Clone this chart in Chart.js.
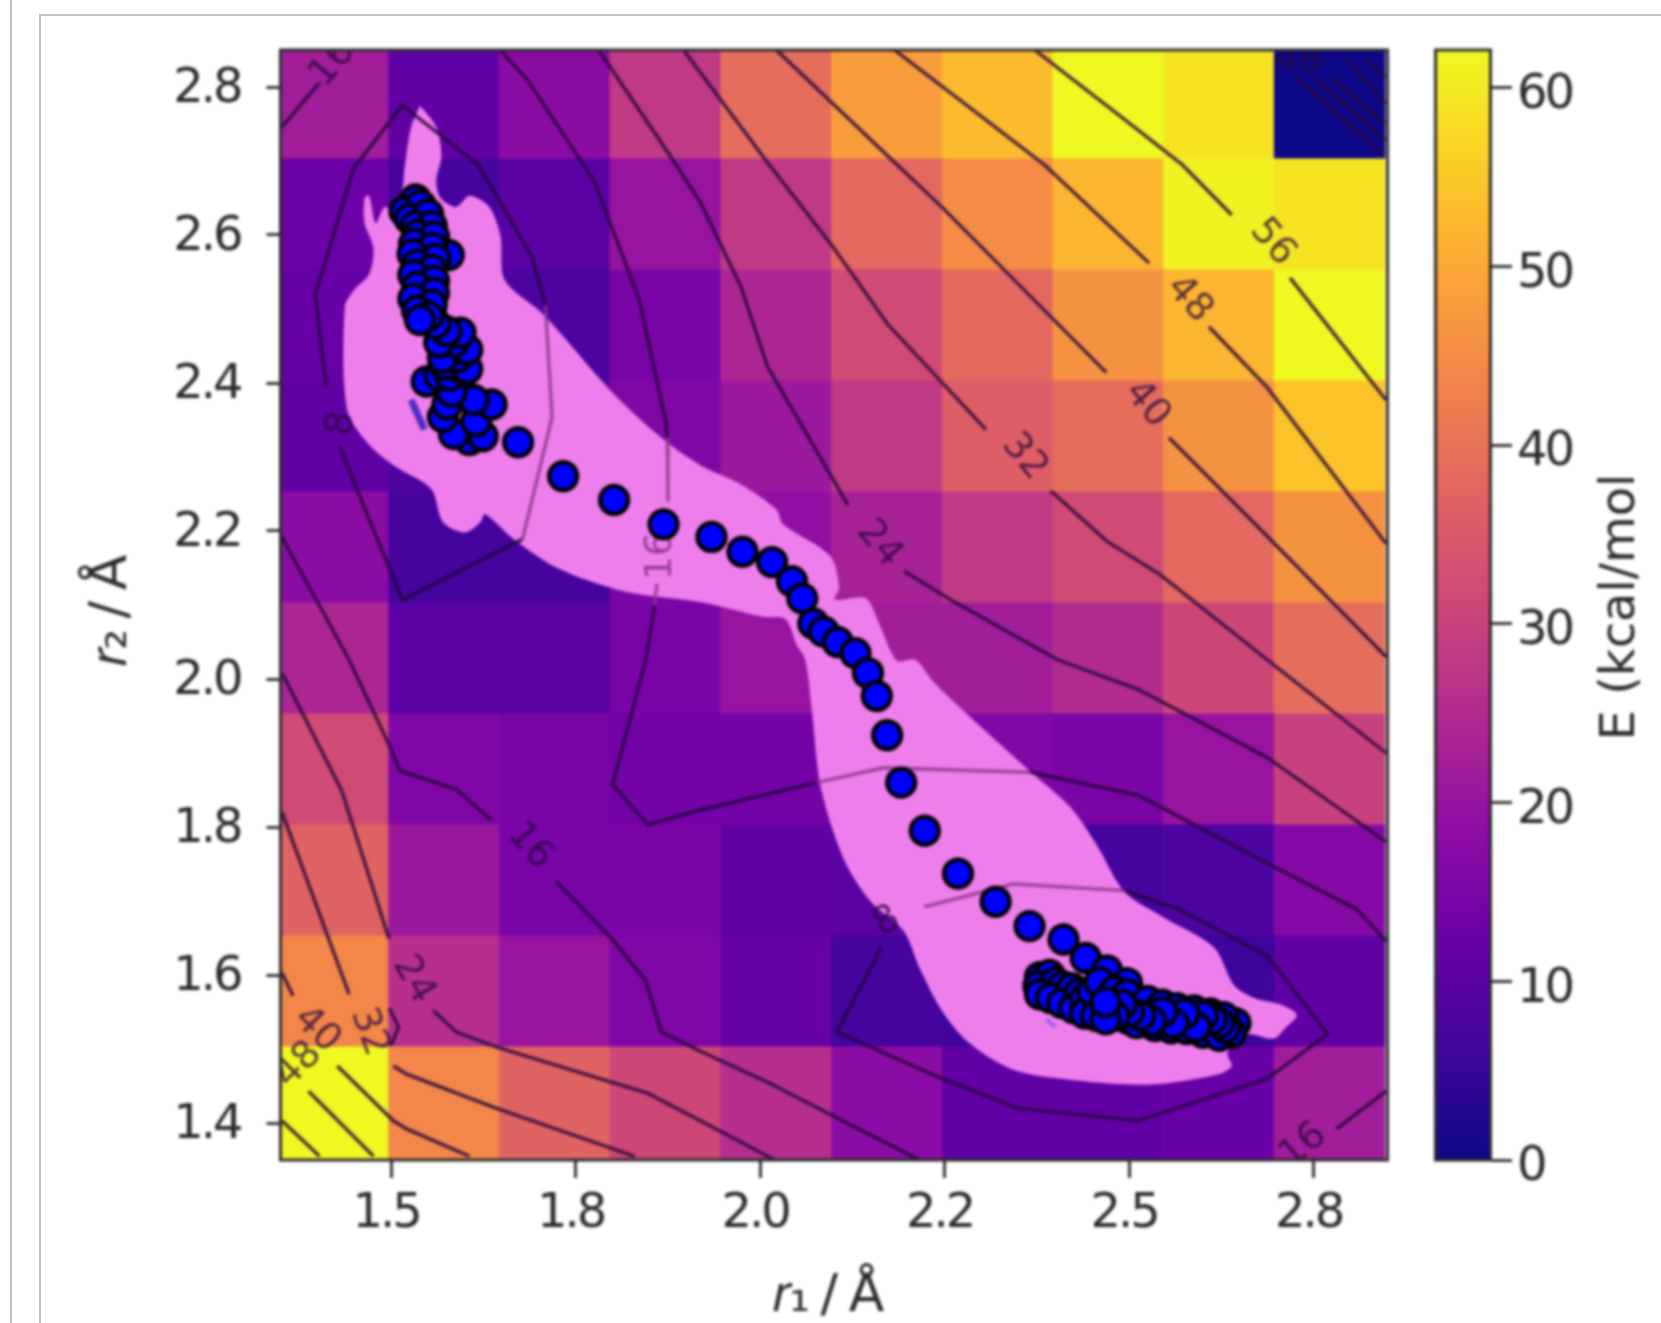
<!DOCTYPE html>
<html>
<head>
<meta charset="utf-8">
<title>Energy surface</title>
<script src="https://cdn.jsdelivr.net/npm/chart.js@4"></script>
<style>
  html, body { margin: 0; padding: 0; background: #fff; overflow: hidden; }
  #page { position: relative; width: 1661px; height: 1323px; overflow: hidden; }
  #outer { position: absolute; left: 10px; top: 0; bottom: 0; border-left: 2px solid #c4c4c4; }
  #inner { position: absolute; left: 39px; top: 14px; right: 0; bottom: 0; border-left: 2px solid #c4c4c4; border-top: 2px solid #c4c4c4; }
  canvas { position: absolute; top: 0; filter: blur(1.5px); }
  #surface { left: 0; }
  #colorbar { left: 1434px; }
</style>
</head>
<body>
<div id="page">
  <div id="outer"></div>
  <div id="inner"></div>
  <canvas id="surface" width="1661" height="1323"></canvas>
  <canvas id="colorbar" width="227" height="1323"></canvas>
</div>
<script>
const fontFamily = "'DejaVu Sans'";
const tickFontSize = 48;

// energy grid, kcal/mol, rows run from the top of the plot down
const r1Edges = [1.3465, 1.4965, 1.6465, 1.7965, 1.9465, 2.0965, 2.2465, 2.3965, 2.5465, 2.6965, 2.8465];
const r2Edges = [2.85, 2.703, 2.553, 2.403, 2.253, 2.103, 1.953, 1.803, 1.653, 1.503, 1.35];
const energies = [
  [22, 11, 18, 28, 39, 48, 53, 62, 59, 0],
  [13, 7, 10, 20, 28, 38, 45, 52, 61, 59],
  [12, 9, 8, 15, 24, 32, 38, 46, 52, 62],
  [11, 8, 10, 16, 21, 28, 36, 39, 46, 54],
  [18, 7, 7, 15, 19, 23, 28, 32, 38, 46],
  [24, 10, 10, 15, 20, 22, 22, 25, 31, 39],
  [32, 16, 15, 14, 14, 15, 16, 15, 20, 30],
  [37, 21, 15, 15, 11, 10, 11, 7, 8, 17],
  [44, 26, 20, 16, 12, 7, 6, 7, 6, 11],
  [62, 44, 37, 31, 26, 18, 11, 11, 12, 22],
];

const xTickValues = [1.5, 1.75, 2.0, 2.25, 2.5, 2.75];
const xTickLabels = ["1.5", "1.8", "2.0", "2.2", "2.5", "2.8"];
const yTickValues = [1.4, 1.6, 1.8, 2.0, 2.2, 2.4, 2.6, 2.8];
const yTickLabels = ["1.4", "1.6", "1.8", "2.0", "2.2", "2.4", "2.6", "2.8"];
const energyTicks = [0, 10, 20, 30, 40, 50, 60];
const energyMax = 62.1;

// plasma colormap
const plasma = ["#0d0887", "#41049d", "#6a00a8", "#8f0da4", "#b12a90", "#cc4778", "#e16462", "#f1844b", "#fca636", "#fcce25", "#f0f921"];

const contours = [
  [[1.412, 2.394], [1.397, 2.519], [1.449, 2.69], [1.515, 2.775], [1.618, 2.695], [1.691, 2.57], [1.709, 2.505]],
  [[1.678, 2.189], [1.515, 2.107], [1.43, 2.314]],
  [[2.164, 1.637], [2.104, 1.523], [2.246, 1.46], [2.349, 1.42], [2.512, 1.403], [2.687, 1.46], [2.769, 1.52], [2.687, 1.626], [2.567, 1.689], [2.494, 1.714]],
  [[1.648, 2.85], [1.685, 2.809], [1.775, 2.673], [1.836, 2.513], [1.872, 2.348], [1.874, 2.326]],
  [[1.857, 2.1], [1.845, 2.026], [1.8, 1.857], [1.848, 1.803], [1.919, 1.823], [2.076, 1.86]],
  [[2.366, 1.874], [2.512, 1.843], [2.687, 1.751], [2.808, 1.689], [2.848, 1.646]],
  [[1.35, 2.195], [1.443, 2.026], [1.497, 1.911], [1.512, 1.876], [1.588, 1.851], [1.636, 1.809]],
  [[1.724, 1.726], [1.799, 1.649], [1.845, 1.592], [1.866, 1.523], [1.919, 1.497], [2.01, 1.455], [2.1, 1.409], [2.216, 1.35]],
  [[1.352, 2.008], [1.433, 1.849], [1.497, 1.649]],
  [[1.557, 1.552], [1.588, 1.523], [1.642, 1.503], [1.848, 1.44], [1.919, 1.403], [2.01, 1.355], [2.02, 1.35]],
  [[1.497, 1.555], [1.51, 1.53], [1.5, 1.505]],
  [[1.352, 1.82], [1.443, 1.574]],
  [[1.503, 1.477], [1.521, 1.466], [1.642, 1.42], [1.83, 1.355]],
  [[1.352, 1.603], [1.367, 1.572]],
  [[1.427, 1.477], [1.503, 1.403], [1.521, 1.392], [1.606, 1.355]],
  [[1.388, 1.443], [1.476, 1.355]],
  [[1.352, 1.403], [1.403, 1.355]],
  [[1.781, 2.85], [1.878, 2.707], [1.919, 2.644], [1.974, 2.53], [2.01, 2.422], [2.119, 2.235]],
  [[2.195, 2.146], [2.258, 2.107], [2.403, 2.026], [2.512, 1.986], [2.687, 1.894], [2.848, 1.78]],
  [[1.896, 2.85], [2.01, 2.698], [2.1, 2.582], [2.173, 2.479], [2.306, 2.337]],
  [[2.394, 2.254], [2.47, 2.186], [2.542, 2.141], [2.687, 2.026], [2.848, 1.9]],
  [[2.022, 2.85], [2.179, 2.701], [2.246, 2.638], [2.469, 2.414]],
  [[2.554, 2.326], [2.674, 2.206], [2.848, 2.03]],
  [[2.182, 2.85], [2.385, 2.695], [2.527, 2.562]],
  [[2.608, 2.476], [2.687, 2.394], [2.848, 2.183]],
  [[2.372, 2.85], [2.499, 2.752], [2.572, 2.695], [2.639, 2.627]],
  [[2.718, 2.542], [2.848, 2.377]],
  [[1.352, 2.746], [1.403, 2.806]],
  [[2.727, 2.812], [2.844, 2.708]],
  [[2.752, 2.812], [2.847, 2.728]],
  [[2.774, 2.812], [2.847, 2.751]],
  [[2.796, 2.836], [2.847, 2.778]],
  [[2.821, 2.836], [2.847, 2.813]],
  [[2.781, 1.392], [2.848, 1.443]],
];

// the stretches of contour seen through the pink region
const contoursInPink = [
  [[1.709, 2.505], [1.718, 2.354], [1.678, 2.189]],
  [[1.874, 2.326], [1.875, 2.24]],
  [[1.86, 2.129], [1.857, 2.1]],
  [[2.076, 1.86], [2.167, 1.88], [2.366, 1.874]],
  [[2.494, 1.714], [2.343, 1.723], [2.222, 1.692]],
];

const contourLabelText = ["8", "8", "16", "16", "16", "16", "24", "24", "32", "32", "40", "40", "48", "48", "56", "48"];
const contourLabelX = [1.433, 2.172, 1.866, 1.688, 1.421, 2.736, 1.53, 2.161, 1.47, 2.358, 1.399, 2.524, 1.375, 2.581, 2.694, 2.729];
const contourLabelY = [2.345, 1.672, 2.166, 1.774, 2.832, 1.369, 1.594, 2.183, 1.523, 2.3, 1.526, 2.371, 1.478, 2.513, 2.59, 2.835];
const contourLabelAngle = [-80, -30, -90, 48, -50, -40, 60, 50, 70, 50, 45, 50, -45, 48, 50, 0];

const pinkR1 = [1.539, 1.561, 1.568, 1.561, 1.567, 1.588, 1.606, 1.633, 1.648, 1.654, 1.706, 1.799, 1.866, 1.919, 1.974, 2.022, 2.031, 2.095, 2.107, 2.101, 2.143, 2.161, 2.185, 2.21, 2.234, 2.282, 2.367, 2.421, 2.457, 2.494, 2.548, 2.615, 2.642, 2.669, 2.705, 2.727, 2.712, 2.696, 2.663, 2.645, 2.633, 2.639, 2.621, 2.53, 2.433, 2.343, 2.282, 2.246, 2.216, 2.194, 2.149, 2.113, 2.082, 2.07, 2.061, 2.049, 2.034, 2.004, 1.919, 1.818, 1.727, 1.666, 1.627, 1.621, 1.6, 1.57, 1.554, 1.503, 1.467, 1.44, 1.437, 1.449, 1.47, 1.476, 1.464, 1.464, 1.47, 1.479, 1.491, 1.503, 1.515, 1.518, 1.527, 1.539];
const pinkR2 = [2.775, 2.746, 2.707, 2.673, 2.65, 2.638, 2.653, 2.638, 2.599, 2.539, 2.493, 2.388, 2.326, 2.289, 2.263, 2.229, 2.209, 2.166, 2.124, 2.107, 2.109, 2.075, 2.025, 2.026, 1.997, 1.951, 1.874, 1.826, 1.774, 1.712, 1.677, 1.637, 1.586, 1.569, 1.56, 1.546, 1.529, 1.514, 1.52, 1.512, 1.494, 1.477, 1.466, 1.452, 1.457, 1.472, 1.509, 1.552, 1.609, 1.66, 1.7, 1.757, 1.854, 1.957, 2.026, 2.047, 2.081, 2.084, 2.104, 2.118, 2.149, 2.189, 2.223, 2.212, 2.198, 2.212, 2.257, 2.289, 2.32, 2.365, 2.502, 2.525, 2.547, 2.582, 2.616, 2.65, 2.653, 2.616, 2.638, 2.633, 2.661, 2.69, 2.746, 2.775];

// blob near r2 = 2.35, then the waist of the column, then down the column from the top
const pathR1 = [1.606, 1.585, 1.624, 1.57, 1.615, 1.636, 1.612, 1.576, 1.582, 1.548, 1.565, 1.58, 1.595, 1.572, 1.603, 1.59, 1.575, 1.57, 1.603, 1.585, 1.565, 1.594, 1.575, 1.56, 1.578,
  1.533, 1.518, 1.54, 1.525, 1.55, 1.533, 1.555, 1.536, 1.558, 1.531, 1.556, 1.529, 1.56, 1.535, 1.555, 1.53, 1.558, 1.535, 1.558, 1.53, 1.555, 1.535, 1.55, 1.539,
  1.672, 1.733, 1.802, 1.869, 1.934, 1.976, 2.016, 2.043, 2.057, 2.072, 2.086, 2.105, 2.129, 2.146, 2.158, 2.172, 2.191, 2.223, 2.268, 2.319, 2.365, 2.411, 2.441, 2.47, 2.497,
  2.379, 2.392, 2.377, 2.4, 2.379, 2.41, 2.394, 2.422, 2.409, 2.432, 2.425, 2.44, 2.44, 2.45, 2.455, 2.46,
  2.644, 2.638, 2.48, 2.497, 2.5, 2.515, 2.51, 2.525, 2.53, 2.535, 2.545, 2.55, 2.557, 2.565, 2.57, 2.578, 2.588, 2.592, 2.6, 2.61, 2.612, 2.622, 2.628, 2.63,
  2.622, 2.612, 2.6, 2.59, 2.575, 2.56, 2.545, 2.53, 2.515, 2.5, 2.49, 2.48, 2.468, 2.468];
const pathR2 = [2.323, 2.331, 2.328, 2.354, 2.348, 2.371, 2.377, 2.371, 2.388, 2.402, 2.41, 2.41, 2.42, 2.425, 2.419, 2.435, 2.44, 2.434, 2.445, 2.455, 2.455, 2.468, 2.47, 2.48, 2.573,
  2.648, 2.632, 2.64, 2.622, 2.628, 2.612, 2.612, 2.6, 2.598, 2.588, 2.583, 2.574, 2.568, 2.56, 2.553, 2.546, 2.538, 2.53, 2.522, 2.514, 2.506, 2.498, 2.49, 2.485,
  2.32, 2.274, 2.242, 2.209, 2.192, 2.172, 2.158, 2.132, 2.109, 2.075, 2.064, 2.05, 2.035, 2.008, 1.977, 1.924, 1.86, 1.795, 1.737, 1.699, 1.666, 1.648, 1.623, 1.606, 1.589,
  1.597, 1.6, 1.585, 1.59, 1.574, 1.585, 1.569, 1.582, 1.562, 1.575, 1.555, 1.568, 1.548, 1.578, 1.545, 1.59,
  1.535, 1.522, 1.578, 1.574, 1.54, 1.553, 1.535, 1.565, 1.545, 1.531, 1.56, 1.54, 1.528, 1.555, 1.54, 1.527, 1.552, 1.535, 1.522, 1.548, 1.53, 1.518, 1.543, 1.528,
  1.535, 1.54, 1.545, 1.53, 1.548, 1.535, 1.55, 1.538, 1.545, 1.55, 1.56, 1.545, 1.54, 1.563];

// two small blue smudges on the pink
const smudges = [
  [[1.527, 2.377], [1.545, 2.337]],
  [[2.388, 1.54], [2.4, 1.53]],
];
const smudgeColors = ["rgba(50,30,190,0.85)", "rgba(80,70,230,0.5)"];

function plasmaColor(value) {
  const t = Math.min(Math.max(value / energyMax, 0), 1) * (plasma.length - 1);
  const i = Math.min(Math.floor(t), plasma.length - 2);
  const a = parseInt(plasma[i].slice(1), 16);
  const b = parseInt(plasma[i + 1].slice(1), 16);
  const mix = (shift) => Math.round(((a >> shift) & 255) * (1 - t + i) + ((b >> shift) & 255) * (t - i));
  return `rgb(${mix(16)},${mix(8)},${mix(0)})`;
}

const cells = [];
const cellColors = [];
energies.forEach((row, r) => {
  row.forEach((value, c) => {
    const center = (r1Edges[c] + r1Edges[c + 1]) / 2;
    const span = [r2Edges[r + 1], r2Edges[r]];
    cells.push({ x: center, y: span });
    cellColors.push(plasmaColor(value));
    // the first column runs on to the left axis
    if (c === 0) {
      cells.push({ x: center - 0.15, y: span });
      cellColors.push(plasmaColor(value));
    }
  });
});

const toPoints = (line) => line.map(([x, y]) => ({ x, y }));

const lineDataset = (line, color, width, order) => ({
  type: "scatter",
  data: toPoints(line),
  showLine: true,
  pointRadius: 0,
  borderColor: color,
  borderWidth: width,
  order: order,
});

const datasets = [
  {
    type: "bar",
    data: cells,
    backgroundColor: cellColors,
    categoryPercentage: 1,
    barPercentage: 1,
    grouped: false,
    order: 100,
  },
  {
    type: "scatter",
    data: pinkR1.map((x, i) => ({ x, y: pinkR2[i] })),
    showLine: true,
    pointRadius: 0,
    borderWidth: 0,
    tension: 0.3,
    backgroundColor: "#ee7eeb",
    fill: "shape",
    order: 90,
  },
];
contours.forEach((line) => datasets.push(lineDataset(line, "rgba(38,6,60,0.85)", 3.4, 50)));
contoursInPink.forEach((line) => datasets.push(lineDataset(line, "rgba(140,55,140,0.85)", 3.4, 50)));
smudges.forEach((line, i) => datasets.push(lineDataset(line, smudgeColors[i], i === 0 ? 7 : 4, 40)));
datasets.push({
  type: "scatter",
  label: "path",
  data: pathR1.map((x, i) => ({ x, y: pathR2[i] })),
  pointRadius: 14,
  pointBackgroundColor: "#0000ff",
  pointBorderColor: "#000",
  pointBorderWidth: 4.4,
  order: 10,
});
const pathIndex = datasets.length - 1;

const tightTicks = {
  id: "tightTicks",
  beforeDraw(chart) {
    chart.ctx.letterSpacing = "-3px";
  },
};

const surfacePlugin = {
  id: "surfaceExtras",
  beforeDatasetDraw(chart, args) {
    if (args.index !== pathIndex) return;
    const { ctx, scales, chartArea } = chart;
    ctx.save();
    ctx.beginPath();
    ctx.rect(chartArea.left, chartArea.top, chartArea.width, chartArea.height);
    ctx.clip();
    ctx.font = `38px ${fontFamily}`;
    ctx.letterSpacing = "0px";
    ctx.textAlign = "center";
    ctx.textBaseline = "middle";
    contourLabelText.forEach((text, i) => {
      const inPink = text === "16" && i === 2;
      ctx.fillStyle = inPink ? "rgba(140,55,140,0.9)" : "rgba(38,6,60,0.75)";
      ctx.save();
      ctx.translate(scales.x.getPixelForValue(contourLabelX[i]), scales.y.getPixelForValue(contourLabelY[i]));
      ctx.rotate((contourLabelAngle[i] * Math.PI) / 180);
      ctx.fillText(text, 0, 0);
      ctx.restore();
    });
    ctx.restore();
  },
  afterDatasetsDraw(chart) {
    const { ctx, chartArea } = chart;
    ctx.save();
    ctx.strokeStyle = "#2a2a2a";
    ctx.lineWidth = 3;
    ctx.strokeRect(chartArea.left, chartArea.top, chartArea.width, chartArea.height);
    ctx.restore();
  },
};

// tick labels may hang over the plot edges, so they must not change its size
const pinSize = (scale, size) => {
  if (scale.isHorizontal()) scale.height = size;
  else scale.width = size;
  scale.paddingTop = 0;
  scale.paddingBottom = 0;
  scale.paddingLeft = 0;
  scale.paddingRight = 0;
};

new Chart(document.getElementById("surface"), {
  data: { datasets },
  plugins: [tightTicks, surfacePlugin],
  options: {
    responsive: false,
    animation: false,
    layout: { padding: { left: 0, top: 50, right: 273.5, bottom: 0 } },
    plugins: { legend: { display: false }, tooltip: { enabled: false } },
    scales: {
      x: {
        type: "linear",
        offset: false,
        min: 1.35,
        max: 2.85,
        afterFit: (scale) => pinSize(scale, 163),
        afterBuildTicks: (scale) => { scale.ticks = xTickValues.map((value) => ({ value })); },
        grid: { offset: false, drawOnChartArea: false, tickLength: 18, tickColor: "#333", tickWidth: 3 },
        border: { display: false },
        ticks: {
          autoSkip: false,
          maxRotation: 0,
          padding: 8,
          labelOffset: -5,
          color: "#2a2a2a",
          font: { family: fontFamily, size: tickFontSize },
          callback: (value, i) => xTickLabels[i],
        },
        title: {
          display: true,
          text: "𝑟₁ / Å\u00a0",
          color: "#2a2a2a",
          font: { family: fontFamily, size: 52, lineHeight: 1 },
          padding: { top: 0, bottom: 0 },
        },
      },
      y: {
        type: "linear",
        min: 1.35,
        max: 2.85,
        afterFit: (scale) => pinSize(scale, 280.5),
        afterBuildTicks: (scale) => { scale.ticks = yTickValues.map((value) => ({ value })); },
        grid: { drawOnChartArea: false, tickLength: 14, tickColor: "#333", tickWidth: 3 },
        border: { display: false },
        ticks: {
          autoSkip: false,
          padding: 26,
          labelOffset: 3,
          color: "#2a2a2a",
          font: { family: fontFamily, size: tickFontSize },
          callback: (value, i) => yTickLabels[i],
        },
        title: {
          display: true,
          text: "𝑟₂ / Å\u00a0",
          color: "#2a2a2a",
          font: { family: fontFamily, size: 52, lineHeight: 1 },
          padding: { top: 86, bottom: 0 },
        },
      },
    },
  },
});

const colorbarExtras = {
  id: "colorbarExtras",
  afterDatasetsDraw(chart) {
    const { ctx, chartArea } = chart;
    ctx.save();
    ctx.strokeStyle = "#2a2a2a";
    ctx.lineWidth = 3;
    ctx.strokeRect(chartArea.left + 1.5, chartArea.top, chartArea.width - 3, chartArea.height);
    // the colorbar title reads upward, on the right of the tick labels
    ctx.translate(188, 607);
    ctx.rotate(-Math.PI / 2);
    ctx.letterSpacing = "0px";
    ctx.font = `48px ${fontFamily}`;
    ctx.fillStyle = "#2a2a2a";
    ctx.textAlign = "center";
    ctx.textBaseline = "middle";
    ctx.fillText("E (kcal/mol", 0, 0);
    ctx.restore();
  },
};

new Chart(document.getElementById("colorbar"), {
  type: "bar",
  data: {
    labels: ["E"],
    datasets: [
      {
        data: [[0, energyMax]],
        categoryPercentage: 1,
        barPercentage: 1,
        backgroundColor: (context) => {
          const area = context.chart.chartArea;
          if (!area) return plasma[0];
          const gradient = context.chart.ctx.createLinearGradient(0, area.bottom, 0, area.top);
          plasma.forEach((color, i) => gradient.addColorStop(i / (plasma.length - 1), color));
          return gradient;
        },
      },
    ],
  },
  plugins: [tightTicks, colorbarExtras],
  options: {
    responsive: false,
    animation: false,
    layout: { padding: { left: 0, top: 50, right: 0, bottom: 163 } },
    plugins: { legend: { display: false }, tooltip: { enabled: false } },
    scales: {
      x: { display: false },
      y: {
        position: "right",
        min: 0,
        max: energyMax,
        afterFit: (scale) => pinSize(scale, 169),
        afterBuildTicks: (scale) => { scale.ticks = energyTicks.map((value) => ({ value })); },
        grid: { drawOnChartArea: false, tickLength: 20, tickColor: "#333", tickWidth: 3 },
        border: { display: false },
        ticks: {
          padding: 5,
          labelOffset: 8,
          color: "#2a2a2a",
          font: { family: fontFamily, size: tickFontSize },
        },
      },
    },
  },
});
</script>
</body>
</html>
